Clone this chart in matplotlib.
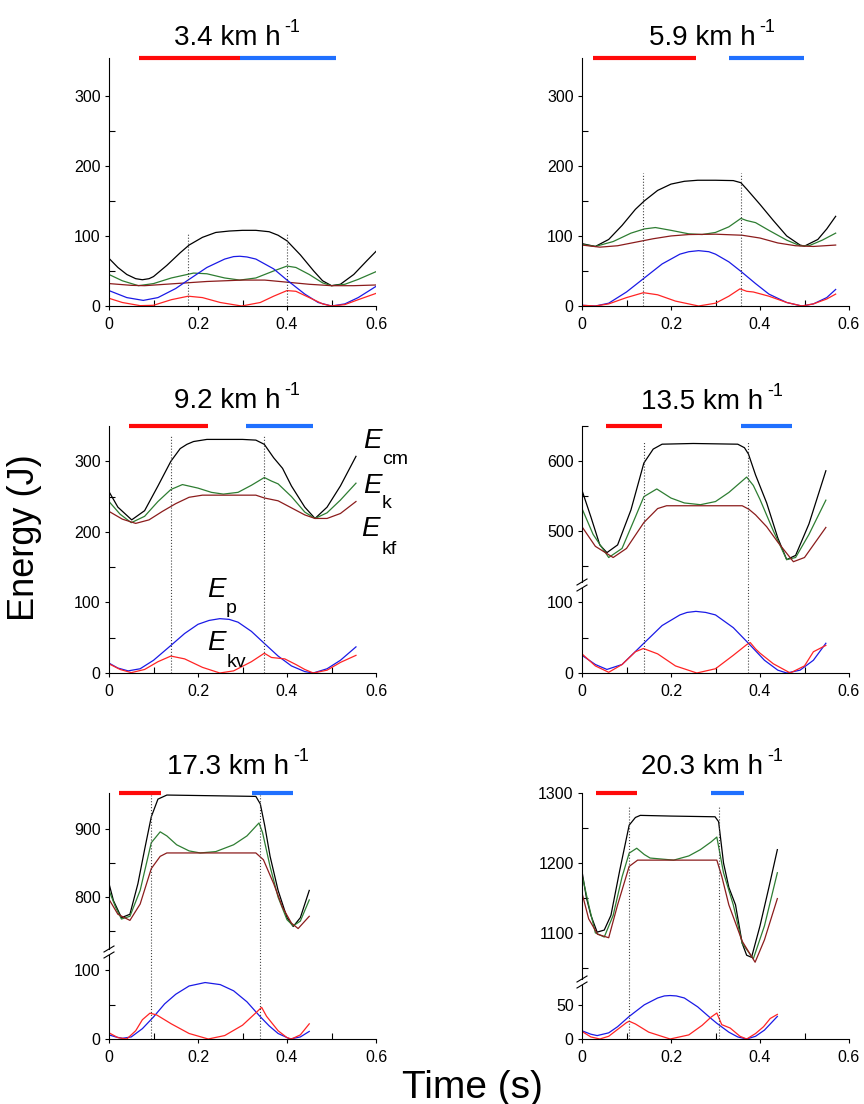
import numpy as np
import matplotlib.pyplot as plt
from matplotlib.ticker import FixedLocator

plt.rcParams['font.family'] = ['Liberation Sans', 'DejaVu Sans']

W, H = 864, 1104

speeds = ['3.4', '5.9', '9.2', '13.5', '17.3', '20.3']

# ---- 3.4 km/h ----
cm1 = [(0, 68), (0.02, 55), (0.04, 45), (0.06, 39), (0.075, 37.5), (0.09, 39), (0.10, 42), (0.13, 58),
       (0.16, 76), (0.18, 87), (0.21, 98), (0.24, 105), (0.27, 107), (0.30, 108), (0.33, 108), (0.36, 106),
       (0.38, 101), (0.40, 93), (0.43, 73), (0.46, 50), (0.48, 36), (0.50, 29), (0.52, 31), (0.55, 45),
       (0.58, 65), (0.60, 78)]
k1 = [(0, 45), (0.03, 36), (0.066, 29), (0.10, 32), (0.14, 40), (0.19, 47), (0.22, 46), (0.26, 40),
      (0.294, 37), (0.33, 40), (0.37, 50), (0.40, 57), (0.42, 55), (0.45, 45), (0.48, 33), (0.50, 29),
      (0.53, 31), (0.56, 38), (0.60, 49)]
kf1 = [(0, 32), (0.05, 29.5), (0.08, 29), (0.15, 32), (0.22, 35), (0.30, 37), (0.35, 37), (0.40, 34),
       (0.45, 31), (0.50, 29), (0.55, 29), (0.60, 30)]
p1 = [(0, 22), (0.04, 12), (0.077, 8), (0.11, 12), (0.15, 25), (0.18, 38), (0.22, 55), (0.26, 67),
      (0.28, 70.5), (0.294, 71), (0.31, 70), (0.33, 67), (0.37, 53), (0.40, 37), (0.44, 17), (0.47, 5),
      (0.50, 0), (0.53, 3), (0.56, 12), (0.60, 28)]
kv1 = [(0, 11), (0.03, 5), (0.07, 0.5), (0.10, 1), (0.14, 9), (0.178, 14), (0.21, 12), (0.25, 5),
       (0.298, 0), (0.34, 5), (0.37, 14), (0.40, 22), (0.42, 21), (0.45, 12), (0.48, 3), (0.50, 0),
       (0.53, 2), (0.56, 9), (0.60, 18)]

# ---- 5.9 km/h ----
cm2 = [(0, 89), (0.03, 85), (0.06, 95), (0.09, 115), (0.12, 138), (0.14, 150), (0.17, 165), (0.20, 174),
       (0.23, 178), (0.26, 179.5), (0.30, 179.5), (0.34, 179), (0.357, 176), (0.37, 167), (0.40, 145),
       (0.43, 122), (0.46, 100), (0.49, 87), (0.50, 85.5), (0.53, 95), (0.55, 110), (0.57, 128)]
k2 = [(0, 88), (0.03, 85), (0.07, 92), (0.11, 104), (0.14, 110), (0.165, 112), (0.20, 108), (0.24, 103),
      (0.27, 102), (0.30, 105), (0.33, 113), (0.357, 125), (0.37, 122), (0.39, 119), (0.42, 108),
      (0.46, 94), (0.49, 86), (0.51, 86), (0.54, 94), (0.57, 104)]
kf2 = [(0, 87), (0.04, 84), (0.08, 86), (0.12, 91), (0.16, 96), (0.20, 100), (0.24, 102), (0.30, 102.5),
       (0.36, 101), (0.40, 97), (0.44, 90), (0.48, 86), (0.52, 85), (0.57, 87)]
p2 = [(0, 1), (0.03, 0), (0.06, 4), (0.10, 20), (0.138, 39), (0.18, 60), (0.22, 74), (0.24, 77.5),
      (0.262, 79), (0.285, 77.5), (0.30, 74), (0.33, 63), (0.357, 49.5), (0.39, 32), (0.42, 17),
      (0.46, 5), (0.494, 0), (0.52, 3), (0.55, 12), (0.57, 23.6)]
kv2 = [(0, 1), (0.03, 0), (0.06, 3), (0.10, 12), (0.138, 19), (0.17, 16), (0.21, 7), (0.262, 0),
       (0.30, 4), (0.33, 14), (0.355, 24.5), (0.37, 21), (0.385, 20), (0.42, 14), (0.46, 5), (0.494, 0),
       (0.52, 3), (0.55, 10), (0.57, 17)]

# ---- 9.2 km/h ----
cm3 = [(0, 257), (0.02, 235), (0.051, 217), (0.08, 230), (0.11, 265), (0.139, 300), (0.16, 318),
       (0.175, 324), (0.19, 328), (0.22, 331), (0.30, 331), (0.33, 330), (0.349, 324), (0.37, 305),
       (0.39, 290), (0.41, 265), (0.44, 235), (0.463, 219), (0.49, 235), (0.52, 265), (0.555, 307)]
k3 = [(0, 243), (0.025, 225), (0.05, 213), (0.08, 222), (0.11, 243), (0.139, 260), (0.165, 267),
      (0.20, 262), (0.23, 256), (0.257, 253.5), (0.29, 256), (0.32, 266), (0.349, 277), (0.365, 272),
      (0.38, 268), (0.41, 250), (0.44, 228), (0.463, 219), (0.49, 227), (0.52, 245), (0.555, 269)]
kf3 = [(0, 229), (0.03, 218), (0.06, 212), (0.09, 217), (0.12, 229), (0.15, 240), (0.18, 249),
       (0.21, 252), (0.33, 252), (0.349, 248), (0.38, 244), (0.41, 234), (0.44, 224), (0.463, 219),
       (0.49, 219), (0.52, 226), (0.555, 243)]
p3 = [(0, 14), (0.02, 7), (0.043, 3), (0.07, 6), (0.10, 18), (0.139, 39), (0.17, 56), (0.20, 69),
      (0.225, 74.5), (0.249, 77), (0.27, 76), (0.29, 72), (0.32, 59), (0.349, 42), (0.38, 24),
      (0.41, 10), (0.44, 2), (0.459, 0), (0.49, 6), (0.52, 18), (0.555, 37)]
kv3 = [(0, 13), (0.025, 5), (0.05, 0.5), (0.08, 5), (0.11, 16), (0.139, 24), (0.17, 20), (0.21, 8),
       (0.249, 0), (0.28, 3), (0.32, 16), (0.349, 28), (0.365, 22), (0.395, 20), (0.42, 12), (0.44, 5),
       (0.459, 0), (0.49, 4), (0.52, 15), (0.555, 25)]

# ---- 13.5 km/h ----
cm4 = [(0, 558), (0.02, 520), (0.04, 480), (0.056, 469), (0.08, 480), (0.11, 530), (0.139, 597),
       (0.16, 617), (0.18, 624), (0.25, 625), (0.35, 624), (0.365, 619), (0.374, 610), (0.39, 580),
       (0.415, 540), (0.44, 490), (0.46, 459), (0.48, 465), (0.51, 510), (0.548, 586)]
k4 = [(0, 532), (0.025, 495), (0.06, 462), (0.09, 475), (0.12, 520), (0.139, 549), (0.168, 560),
      (0.20, 547), (0.23, 540), (0.266, 537.5), (0.30, 542), (0.33, 555), (0.37, 577), (0.385, 565),
      (0.40, 545), (0.43, 500), (0.46, 459), (0.48, 462), (0.51, 495), (0.548, 544)]
kf4 = [(0, 506), (0.03, 478), (0.07, 462), (0.10, 475), (0.139, 512), (0.17, 532), (0.19, 536),
       (0.36, 536), (0.375, 531), (0.39, 523), (0.415, 506), (0.44, 484), (0.475, 456), (0.50, 462),
       (0.548, 505)]
p4 = [(0, 25), (0.03, 12), (0.056, 5), (0.09, 12), (0.139, 42), (0.18, 67), (0.22, 82), (0.236, 85.5),
      (0.256, 87), (0.278, 85.5), (0.30, 82), (0.34, 64), (0.374, 42), (0.41, 18), (0.44, 4), (0.46, 0),
      (0.49, 4), (0.52, 18), (0.548, 42)]
kv4 = [(0, 27), (0.03, 10), (0.06, 1), (0.09, 12), (0.12, 30), (0.138, 34.6), (0.17, 27), (0.21, 10),
       (0.258, 0), (0.30, 6), (0.34, 25), (0.37, 40), (0.378, 43), (0.39, 34), (0.40, 28), (0.43, 13),
       (0.468, 0), (0.50, 10), (0.52, 30), (0.548, 39)]

# ---- 17.3 km/h ----
cm5 = [(0, 820), (0.01, 795), (0.028, 770), (0.047, 775), (0.065, 820), (0.08, 870), (0.095, 918),
       (0.11, 944), (0.13, 950), (0.33, 948), (0.34, 937), (0.35, 905), (0.362, 860), (0.38, 810),
       (0.40, 770), (0.414, 757), (0.43, 770), (0.45, 810)]
k5 = [(0, 810), (0.015, 785), (0.028, 768), (0.047, 772), (0.07, 810), (0.095, 880), (0.115, 896),
      (0.13, 890), (0.152, 877), (0.18, 868), (0.205, 865), (0.24, 867), (0.28, 877), (0.31, 890),
      (0.337, 909), (0.345, 895), (0.362, 845), (0.38, 800), (0.40, 767), (0.414, 758), (0.43, 765),
      (0.45, 796)]
kf5 = [(0, 797), (0.02, 775), (0.047, 766), (0.07, 790), (0.095, 842), (0.115, 860), (0.13, 865),
       (0.33, 865), (0.347, 855), (0.37, 820), (0.39, 785), (0.41, 762), (0.425, 754), (0.45, 772)]
p5 = [(0, 6), (0.015, 3), (0.03, 1), (0.05, 3), (0.075, 15), (0.10, 32), (0.125, 51), (0.15, 65),
      (0.18, 77), (0.216, 82), (0.25, 79), (0.28, 70), (0.31, 54), (0.339, 33), (0.36, 19), (0.38, 8),
      (0.407, 0), (0.43, 3), (0.45, 11)]
kv5 = [(0, 9), (0.02, 2), (0.04, 0), (0.06, 12), (0.075, 28), (0.092, 37.5), (0.107, 35), (0.14, 22),
       (0.18, 8), (0.223, 0), (0.26, 5), (0.30, 20), (0.33, 38), (0.343, 46), (0.354, 33), (0.38, 12),
       (0.40, 2), (0.41, 0), (0.43, 6), (0.45, 22)]

# ---- 20.3 km/h ----
cm6 = [(0, 1188), (0.01, 1150), (0.02, 1125), (0.034, 1101), (0.05, 1104), (0.065, 1125), (0.085, 1190),
       (0.106, 1254), (0.12, 1265), (0.131, 1268), (0.20, 1267), (0.299, 1266), (0.307, 1259),
       (0.318, 1200), (0.33, 1165), (0.345, 1140), (0.36, 1085), (0.37, 1068), (0.381, 1065),
       (0.40, 1110), (0.42, 1165), (0.439, 1219)]
k6 = [(0, 1183), (0.015, 1140), (0.03, 1100), (0.05, 1094), (0.07, 1125), (0.09, 1180), (0.106, 1214),
      (0.123, 1221), (0.14, 1212), (0.153, 1207), (0.206, 1204), (0.24, 1210), (0.266, 1219),
      (0.29, 1230), (0.303, 1237), (0.318, 1186), (0.34, 1140), (0.36, 1085), (0.385, 1063),
      (0.41, 1110), (0.439, 1186)]
kf6 = [(0, 1157), (0.015, 1120), (0.035, 1098), (0.06, 1093), (0.08, 1140), (0.106, 1195), (0.125, 1204),
       (0.303, 1204), (0.314, 1181), (0.33, 1140), (0.36, 1088), (0.389, 1058), (0.41, 1090),
       (0.439, 1149)]
p6 = [(0, 12), (0.02, 7), (0.034, 5), (0.06, 9), (0.08, 18), (0.106, 33), (0.14, 50), (0.17, 60),
      (0.185, 63), (0.198, 63.6), (0.212, 63), (0.23, 60), (0.26, 47), (0.29, 30), (0.303, 23),
      (0.33, 10), (0.35, 3), (0.37, 0), (0.39, 4), (0.41, 13), (0.439, 33)]
kv6 = [(0, 11), (0.02, 3), (0.04, 0), (0.06, 4), (0.08, 14), (0.10, 24), (0.106, 26), (0.12, 22),
       (0.15, 10), (0.198, 0), (0.24, 6), (0.27, 20), (0.29, 32), (0.303, 38), (0.314, 21), (0.333, 16),
       (0.355, 4), (0.37, 0), (0.39, 8), (0.408, 18), (0.423, 30), (0.439, 36)]

# phase bars above each panel (start, end in s)
red_bars = [(0.067, 0.294), (0.024, 0.256), (0.045, 0.222), (0.055, 0.180), (0.023, 0.117), (0.032, 0.124)]
blue_bars = [(0.294, 0.509), (0.331, 0.499), (0.307, 0.458), (0.358, 0.472), (0.322, 0.413), (0.290, 0.365)]
# dotted vertical markers and their heights (J)
marks = [(0.178, 0.401), (0.138, 0.357), (0.139, 0.349), (0.139, 0.374), (0.095, 0.339), (0.106, 0.307)]
mark_top = [103, 190, 336, 628, 950, 1280]

curves = [(cm1, k1, kf1, p1, kv1), (cm2, k2, kf2, p2, kv2), (cm3, k3, kf3, p3, kv3),
          (cm4, k4, kf4, p4, kv4), (cm5, k5, kf5, p5, kv5), (cm6, k6, kf6, p6, kv6)]
colors = ['black', '#2e7d32', '#8b1c1c', '#1a1ae6', '#ff2424']

# layout in pixels: (left, top, right, bottom, ylim, major yticks, minor yticks), upper axes first
layout = [
    [(109, 58, 376, 306, (0, 354), [0, 100, 200, 300], [50, 150, 250])],
    [(582, 58, 849, 306, (0, 354), [0, 100, 200, 300], [50, 150, 250])],
    [(109, 426, 376, 673, (0, 350), [0, 100, 200, 300], [50, 150, 250])],
    [(582, 426, 849, 582, (427, 650), [500, 600], [450, 550, 650]),
     (582, 588, 849, 673, (0, 120), [0, 100], [50])],
    [(109, 793, 376, 949, (724, 953), [800, 900], [750, 850]),
     (109, 955, 376, 1039, (0, 122), [0, 100], [50])],
    [(582, 793, 849, 979, (1034, 1300), [1100, 1200, 1300], [1050, 1150, 1250]),
     (582, 985, 849, 1039, (0, 79), [0, 50], [])],
]
title_pos = [(227, 45), (702, 45), (227, 408), (702, 409), (228, 774), (702, 774)]

fig = plt.figure(figsize=(W / 100, H / 100), dpi=100)


def px(x, y):
    return x / W, 1 - y / H


for i in range(6):
    axs = []
    for j, (l, t, r, b, ylim, ymaj, ymin) in enumerate(layout[i]):
        ax = fig.add_axes([l / W, 1 - b / H, (r - l) / W, (b - t) / H])
        ax.set_xlim(0, 0.6)
        ax.set_ylim(*ylim)
        for c, s in zip(colors, curves[i]):
            d = np.array(s)
            ax.plot(d[:, 0], d[:, 1], color=c, lw=0.9)
        broken_low = (j == 1)
        for xm in marks[i]:
            if broken_low:
                # carry the marker through the gap of the broken axis
                ax.plot([xm, xm], [0, ylim[1] + 9], ls=':', color='#444444', lw=0.8, clip_on=False)
            else:
                ax.plot([xm, xm], [max(0, ylim[0]), mark_top[i]], ls=':', color='#444444', lw=0.8)
        ax.yaxis.set_major_locator(FixedLocator(ymaj))
        ax.yaxis.set_minor_locator(FixedLocator(ymin))
        ax.xaxis.set_major_locator(FixedLocator([0, 0.2, 0.4, 0.6]))
        ax.xaxis.set_minor_locator(FixedLocator([0.1, 0.3, 0.5]))
        ax.set_xticklabels(['0', '0.2', '0.4', '0.6'])
        ax.tick_params(which='major', direction='out', length=3, width=0.8, labelsize=11.5, pad=3)
        ax.tick_params(which='minor', direction='in', length=4, width=0.8)
        ax.tick_params(axis='x', which='major', pad=5)
        ax.spines['top'].set_visible(False)
        ax.spines['right'].set_visible(False)
        ax.patch.set_alpha(0)
        axs.append(ax)
    top = axs[0]
    yt = top.get_ylim()[1]
    top.plot(red_bars[i], [yt, yt], color='#ff0a0a', lw=3, clip_on=False, solid_capstyle='butt')
    top.plot(blue_bars[i], [yt, yt], color='#2070ff', lw=3, clip_on=False, solid_capstyle='butt')
    if len(axs) == 2:
        top.spines['bottom'].set_visible(False)
        top.tick_params(axis='x', which='both', bottom=False, labelbottom=False)
        l = layout[i][0][0]
        yb = (layout[i][0][3] + layout[i][1][1]) / 2
        for dy in (-3, 3):
            x0, y0 = px(l - 5, yb + dy + 3)
            x1, y1 = px(l + 5, yb + dy - 3)
            fig.add_artist(plt.Line2D([x0, x1], [y0, y1], color='black', lw=0.8))

    # title with superscript
    tx, ty = title_pos[i]
    t = fig.text(*px(tx, ty), speeds[i] + ' km h', fontsize=20, ha='center', va='baseline')
    fig.canvas.draw()
    bb = t.get_window_extent()
    fig.text(*px(bb.x1 + 4, ty - 13), '-1', fontsize=13, ha='left', va='baseline')

# energy labels in the 9.2 km/h panel: (E x, E baseline, sub x, sub baseline, subscript)
labels = [(363, 448, 382, 464, 'cm'), (363, 493, 382, 508, 'k'), (361, 536, 382, 554, 'kf'),
          (207, 597, 226, 613, 'p'), (207, 650, 227, 667, 'kv')]
for ex, ey, sx, sy, sub in labels:
    fig.text(*px(ex, ey), 'E', fontsize=20, style='italic', ha='left', va='baseline')
    fig.text(*px(sx, sy), sub, fontsize=14, ha='left', va='baseline')

fig.text(*px(25, 538), 'Energy (J)', fontsize=26, rotation=90, ha='center', va='center')
fig.text(*px(472, 1098), 'Time (s)', fontsize=28, ha='center', va='baseline')

fig.savefig('out.png', dpi=100)
